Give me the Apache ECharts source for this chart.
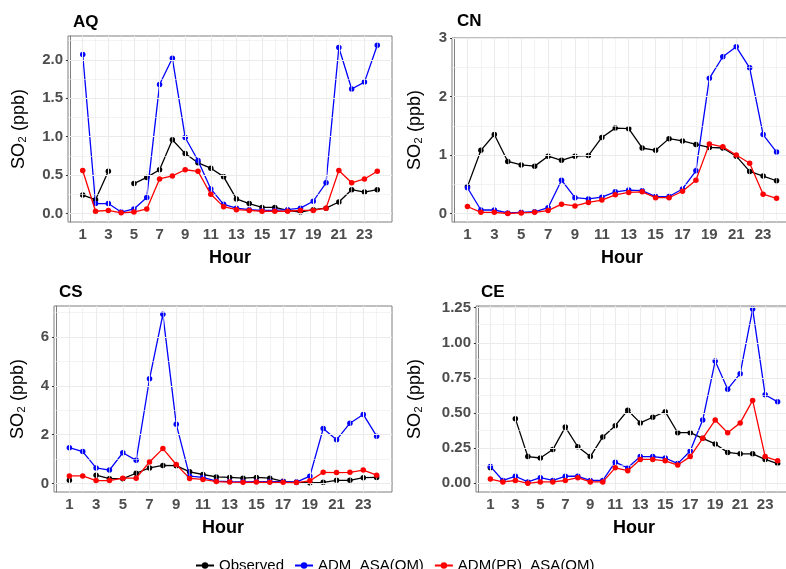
<!DOCTYPE html>
<html>
<head>
<meta charset="utf-8">
<script src="https://cdn.jsdelivr.net/npm/echarts@6/dist/echarts.min.js"></script>
<style>
html, body { margin: 0; padding: 0; background: #ffffff; }
#main { width: 786px; height: 569px; }
</style>
</head>
<body>
<div id="main"></div>
<script>
// hours of the day (x) and labelled hours
var hours = [1, 2, 3, 4, 5, 6, 7, 8, 9, 10, 11, 12, 13, 14, 15, 16, 17, 18, 19, 20, 21, 22, 23, 24];
var hourLabels = [1, 3, 5, 7, 9, 11, 13, 15, 17, 19, 21, 23];
var seriesNames = ['Observed', 'ADM  ASA(OM)', 'ADM(PR)  ASA(OM)'];

// AQ
var aqObserved = [0.24, 0.18, 0.55, null, 0.39, 0.47, 0.57, 0.96, 0.78, 0.66, 0.59, 0.48, 0.19, 0.13, 0.08, 0.08, 0.04, 0.02, 0.05, 0.07, 0.15, 0.31, 0.28, 0.31];
var aqAdm = [2.07, 0.13, 0.13, 0.02, 0.06, 0.21, 1.68, 2.02, 0.99, 0.69, 0.32, 0.12, 0.07, 0.05, 0.04, 0.04, 0.05, 0.07, 0.16, 0.40, 2.16, 1.62, 1.71, 2.19];
var aqAdmPr = [0.56, 0.03, 0.04, 0.01, 0.02, 0.06, 0.45, 0.49, 0.57, 0.55, 0.25, 0.09, 0.05, 0.04, 0.03, 0.03, 0.03, 0.04, 0.04, 0.07, 0.56, 0.40, 0.45, 0.55];
var aqTicks = [0, 0.5, 1.0, 1.5, 2.0];
var aqMinor = [0.25, 0.75, 1.25, 1.75, 2.25];

// CN
var cnObserved = [0.46, 1.08, 1.35, 0.89, 0.83, 0.81, 0.98, 0.91, 0.98, 0.99, 1.30, 1.46, 1.45, 1.12, 1.08, 1.28, 1.24, 1.18, 1.13, 1.12, 0.98, 0.72, 0.64, 0.56];
var cnAdm = [0.44, 0.06, 0.06, 0.01, 0.02, 0.03, 0.10, 0.57, 0.27, 0.25, 0.28, 0.37, 0.40, 0.39, 0.29, 0.29, 0.42, 0.73, 2.31, 2.68, 2.85, 2.49, 1.35, 1.05];
var cnAdmPr = [0.12, 0.02, 0.02, 0.00, 0.01, 0.02, 0.05, 0.16, 0.13, 0.19, 0.23, 0.32, 0.36, 0.37, 0.27, 0.27, 0.38, 0.57, 1.19, 1.14, 1.00, 0.86, 0.33, 0.26];
var cnTicks = [0, 1, 2, 3];
var cnMinor = [0.5, 1.5, 2.5];

// CS
var csObserved = [0.13, null, 0.34, 0.20, 0.20, 0.42, 0.64, 0.74, 0.73, 0.48, 0.37, 0.27, 0.25, 0.22, 0.25, 0.22, 0.09, 0.05, 0.03, 0.05, 0.13, 0.13, 0.24, 0.25];
var csAdm = [1.47, 1.31, 0.64, 0.55, 1.26, 0.95, 4.29, 6.93, 2.43, 0.30, 0.25, 0.10, 0.08, 0.07, 0.08, 0.08, 0.08, 0.06, 0.30, 2.25, 1.79, 2.47, 2.83, 1.94];
var csAdmPr = [0.31, 0.31, 0.12, 0.12, 0.22, 0.22, 0.88, 1.43, 0.78, 0.21, 0.17, 0.08, 0.06, 0.05, 0.06, 0.05, 0.05, 0.04, 0.11, 0.46, 0.45, 0.46, 0.55, 0.34];
var csTicks = [0, 2, 4, 6];
var csMinor = [1, 3, 5, 7];

// CE
var ceObserved = [0.11, null, 0.46, 0.19, 0.18, 0.24, 0.40, 0.26, 0.19, 0.33, 0.41, 0.52, 0.43, 0.47, 0.51, 0.36, 0.36, 0.32, 0.28, 0.22, 0.21, 0.21, 0.17, 0.14];
var ceAdm = [0.12, 0.02, 0.05, 0.01, 0.04, 0.02, 0.05, 0.05, 0.02, 0.02, 0.15, 0.11, 0.19, 0.19, 0.18, 0.14, 0.23, 0.45, 0.87, 0.67, 0.78, 1.24, 0.63, 0.58];
var ceAdmPr = [0.03, 0.01, 0.02, 0.00, 0.01, 0.01, 0.02, 0.04, 0.01, 0.01, 0.11, 0.09, 0.17, 0.17, 0.16, 0.13, 0.19, 0.32, 0.45, 0.36, 0.43, 0.59, 0.19, 0.16];
var ceTicks = [0, 0.25, 0.5, 0.75, 1.0, 1.25];
var ceMinor = [0.125, 0.375, 0.625, 0.875, 1.125];

var panels = [
  { title: 'AQ', values: [aqObserved, aqAdm, aqAdmPr], ticks: aqTicks, minor: aqMinor, digits: 1, yMin: -0.11, yMax: 2.31,
    left: 68, top: 36, width: 324, height: 186, titleTop: 9, nameGap: 40 },
  { title: 'CN', values: [cnObserved, cnAdm, cnAdmPr], ticks: cnTicks, minor: cnMinor, digits: 0, yMin: -0.145, yMax: 3.0,
    left: 452, top: 38, width: 340, height: 184, titleTop: 8, nameGap: 28 },
  { title: 'CS', values: [csObserved, csAdm, csAdmPr], ticks: csTicks, minor: csMinor, digits: 0, yMin: -0.347, yMax: 7.27,
    left: 54, top: 306, width: 338, height: 186, titleTop: 279, nameGap: 27 },
  { title: 'CE', values: [ceObserved, ceAdm, ceAdmPr], ticks: ceTicks, minor: ceMinor, digits: 2, yMin: -0.062, yMax: 1.262,
    left: 476, top: 306, width: 316, height: 186, titleTop: 279, nameGap: 52 }
];
var colors = ['#000000', '#0000ff', '#ff0000'];
var font = '"Liberation Sans", Arial, Helvetica, sans-serif';

var myChart = echarts.init(document.getElementById('main'));

var grids = [], xAxes = [], yAxes = [], titles = [], series = [];
panels.forEach(function (p, i) {
  grids.push({ left: p.left, top: p.top, width: p.width, height: p.height, show: true,
    outerBoundsMode: 'none', containLabel: false,
    borderColor: '#7f7f7f', borderWidth: 1, backgroundColor: 'transparent' });
  titles.push({ text: p.title, left: p.left, top: p.titleTop,
    textStyle: { fontFamily: font, fontSize: 17, fontWeight: 'bold', color: '#000' } });
  xAxes.push({
    gridIndex: i, type: 'value', min: -0.15, max: 25.15,
    name: 'Hour', nameLocation: 'middle', nameGap: 27,
    nameTextStyle: { fontFamily: font, fontSize: 18, fontWeight: 'bold', color: '#000' },
    axisLine: { show: true, lineStyle: { color: '#7f7f7f', width: 1 } },
    axisTick: { show: true, length: 4, customValues: hourLabels, lineStyle: { color: '#333333' } },
    axisLabel: { customValues: hourLabels, margin: 5, fontFamily: font, fontSize: 15, fontWeight: 'bold', color: '#4d4d4d' },
    splitLine: { show: false }
  });
  yAxes.push({
    gridIndex: i, type: 'value', min: p.yMin, max: p.yMax,
    name: 'SO\u2082 (ppb)', nameLocation: 'middle', nameGap: p.nameGap,
    nameTextStyle: { fontFamily: font, fontSize: 18, color: '#000' },
    axisLine: { show: true, lineStyle: { color: '#7f7f7f', width: 1 } },
    axisTick: { show: true, length: 4, customValues: p.ticks, lineStyle: { color: '#333333' } },
    axisLabel: { customValues: p.ticks, margin: 5, fontFamily: font, fontSize: 15, fontWeight: 'bold', color: '#4d4d4d',
      formatter: function (v) { return Number(v).toFixed(p.digits); } },
    splitLine: { show: false }
  });
  // background grid lines, placed on the panel's own scales
  var gridData = [];
  hours.forEach(function (h) {
    gridData.push({ xAxis: h, lineStyle: { type: 'solid', color: '#ebebeb', width: h % 2 === 1 ? 1.1 : 0.6 } });
  });
  p.ticks.forEach(function (t) {
    gridData.push({ yAxis: t, lineStyle: { type: 'solid', color: '#ebebeb', width: 1.1 } });
  });
  p.minor.forEach(function (t) {
    gridData.push({ yAxis: t, lineStyle: { type: 'solid', color: '#ebebeb', width: 0.6 } });
  });
  series.push({
    type: 'line', xAxisIndex: i, yAxisIndex: i, z: 1, silent: true,
    data: [[hours[0], p.ticks[0]]], showSymbol: false, lineStyle: { opacity: 0 },
    markLine: { silent: true, symbol: 'none', animation: false, label: { show: false },
      lineStyle: { type: 'solid' }, data: gridData }
  });
  p.values.forEach(function (vals, k) {
    series.push({
      name: seriesNames[k], type: 'line', xAxisIndex: i, yAxisIndex: i, z: 3 + k,
      data: hours.map(function (h, j) { return [h, vals[j]]; }),
      connectNulls: false, showSymbol: true, showAllSymbol: true,
      symbol: 'circle', symbolSize: 5.5,
      itemStyle: { color: colors[k], borderColor: colors[k], borderWidth: 0, opacity: 1 },
      lineStyle: { color: colors[k], width: 1.3 },
      animation: false
    });
  });
});

option = {
  backgroundColor: '#ffffff',
  animation: false,
  title: titles,
  grid: grids,
  xAxis: xAxes,
  yAxis: yAxes,
  legend: {
    data: seriesNames, left: 190, top: 553, itemWidth: 18, itemHeight: 8, itemGap: 10,
    textStyle: { fontFamily: font, fontSize: 15, color: '#000' }
  },
  series: series
};
myChart.setOption(option);
</script>
</body>
</html>
